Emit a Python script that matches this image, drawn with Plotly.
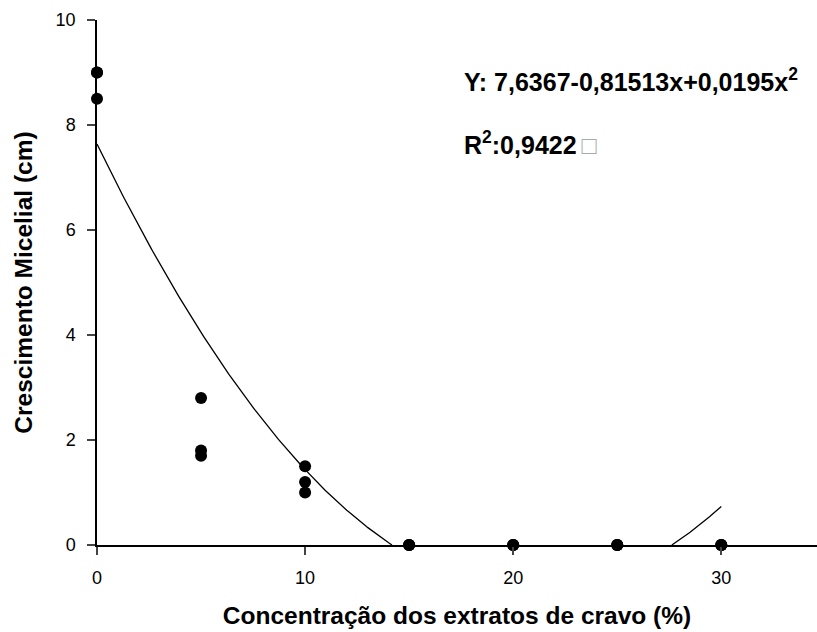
import numpy as np
import plotly.graph_objects as go

# ---- data ----
concentracao = [0, 0, 0, 5, 5, 5, 10, 10, 10, 15, 15, 15, 20, 20, 20, 25, 25, 25, 30, 30, 30]
crescimento = [9.0, 9.0, 8.5, 2.8, 1.8, 1.7, 1.5, 1.2, 1.0, 0, 0, 0, 0, 0, 0, 0, 0, 0, 0, 0, 0]

# regression coefficients printed on the chart
b0, b1, b2 = 7.6367, -0.81513, 0.0195
fit_x_max = 30

x_ticks = [0, 10, 20, 30]
y_ticks = [0, 2, 4, 6, 8, 10]

eq_text = "Y: 7,6367-0,81513x+0,0195x<sup>2</sup>"
r2_text = "R<sup>2</sup>:0,9422<span style='color:#aaaaaa;font-weight:normal'>\u2009□</span>"

# ---- fitted curve (only the non-negative part is drawn) ----
roots = np.sort(np.roots([b2, b1, b0]).real)
xs = np.concatenate([np.linspace(0, fit_x_max, 601), roots])
xs = np.sort(xs[(xs >= 0) & (xs <= fit_x_max)])
ys = b0 + b1 * xs + b2 * xs ** 2
ys = np.where(np.abs(ys) < 1e-9, 0, ys)
fit_y = [float(v) if v >= 0 else None for v in ys]

FONT = "Liberation Sans, Arial, sans-serif"

fig = go.Figure()
fig.add_trace(go.Scatter(x=xs, y=fit_y, mode="lines",
                         line=dict(color="black", width=1.3),
                         connectgaps=False, hoverinfo="skip", showlegend=False))
fig.add_trace(go.Scatter(x=concentracao, y=crescimento, mode="markers",
                         marker=dict(color="black", size=12),
                         cliponaxis=False, showlegend=False))

fig.add_annotation(x=0.507, y=80, xref="paper", yref="paper", text=eq_text)
fig.add_annotation(x=0.507, y=143, xref="paper", yref="paper", text=r2_text)

# convert annotation y (pixel rows) to paper coordinates
H, T, B = 632, 20, 87
plot_h = H - T - B
for ann in fig.layout.annotations:
    ann.y = (H - B - ann.y) / plot_h
    ann.update(xanchor="left", yanchor="middle", showarrow=False,
               font=dict(family=FONT, size=25, color="black"), align="left")
    ann.text = "<b>" + ann.text + "</b>"

fig.update_layout(
    width=817, height=632,
    margin=dict(l=97, r=0, t=T, b=B),
    paper_bgcolor="white", plot_bgcolor="white",
    font=dict(family=FONT, color="black"),
    xaxis=dict(range=[0, 34.6], tickvals=x_ticks, ticks="outside", ticklen=8,
               tickwidth=1.5, showline=True, linewidth=1.5, linecolor="black",
               showgrid=False, zeroline=False, tickfont=dict(size=18),
               ticklabelstandoff=8,
               title=dict(text="<b>Concentração dos extratos de cravo (%)</b>",
                          font=dict(size=24.5), standoff=20)),
    yaxis=dict(range=[0, 10], tickvals=y_ticks, ticks="outside", ticklen=8,
               tickwidth=1.5, showline=True, linewidth=1.5, linecolor="black",
               showgrid=False, zeroline=False, tickfont=dict(size=18),
               ticklabelstandoff=8,
               title=dict(text="<b>Crescimento Micelial (cm)</b>",
                          font=dict(size=24.5), standoff=16)),
)

fig.write_html("out.html")
